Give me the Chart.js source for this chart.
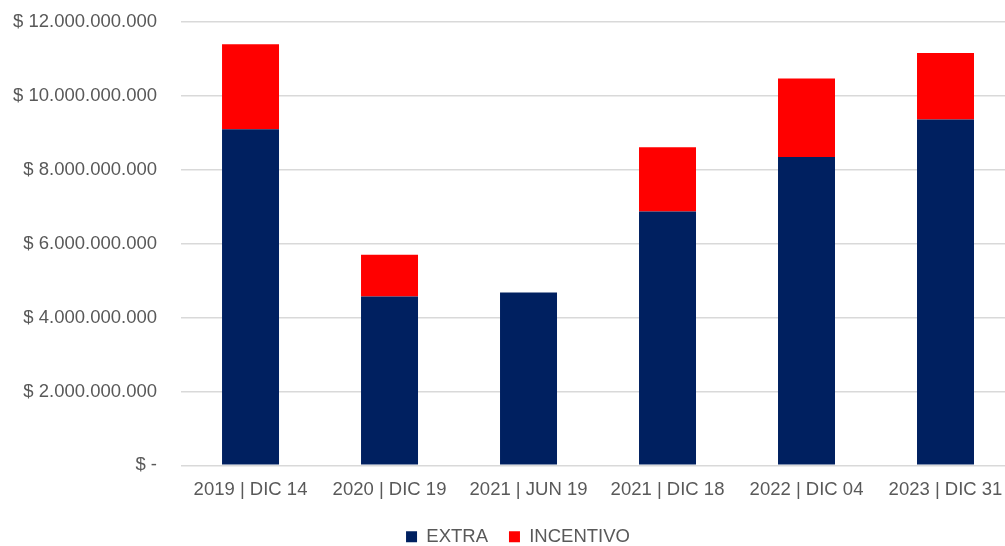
<!DOCTYPE html>
<html>
<head>
<meta charset="utf-8">
<script src="https://cdn.jsdelivr.net/npm/chart.js@4/dist/chart.umd.min.js"></script>
<style>
  html, body { margin: 0; padding: 0; background: #fff; overflow: hidden; }
  #wrap { position: relative; width: 1026px; height: 569px; margin-left: -11px; margin-top: -13px; }
</style>
</head>
<body>
<div id="wrap"><canvas id="myChart"></canvas></div>
<script>
const categories = ['2019 | DIC 14', '2020 | DIC 19', '2021 | JUN 19', '2021 | DIC 18', '2022 | DIC 04', '2023 | DIC 31']
const extra = [9100000000, 4570000000, 4680000000, 6870000000, 8350000000, 9360000000]
const incentivo = [2300000000, 1130000000, 0, 1740000000, 2120000000, 1800000000]
const yTicks = [0, 2000000000, 4000000000, 6000000000, 8000000000, 10000000000, 12000000000]

const blueColor = '#002060'
const redColor = '#FF0000'
const textColor = '#595959'

function pesos(value) {
    if (value === 0) return '$ -'
    return '$ ' + String(value).replace(/\B(?=(\d{3})+(?!\d))/g, '.')
}

// the legend in the original sits a little right of the canvas centre
const legendShift = {
    id: 'legendShift',
    afterLayout(chart) {
        if (chart.legend) chart.legend.left += 32
    }
}

const ctx = document.getElementById('myChart')

new Chart(ctx, {
    type: 'bar',
    data: {
        labels: categories,
        datasets: [
            { label: 'EXTRA', data: extra, backgroundColor: blueColor, borderWidth: 0 },
            { label: 'INCENTIVO', data: incentivo, backgroundColor: redColor, borderWidth: 0 }
        ]
    },
    options: {
        responsive: true,
        maintainAspectRatio: false,
        animation: false,
        datasets: {
            bar: { categoryPercentage: 1, barPercentage: 0.41 }
        },
        layout: { padding: 0 },
        scales: {
            x: {
                stacked: true,
                grid: { display: false },
                border: { display: false },
                ticks: { color: textColor, font: { family: 'Liberation Sans', size: 18.5 }, padding: 5.5, maxRotation: 0 }
            },
            y: {
                stacked: true,
                min: 0,
                max: 12000000000,
                afterBuildTicks: axis => { axis.ticks = yTicks.map(v => ({ value: v })) },
                grid: { color: '#d9d9d9', lineWidth: 1.5, drawTicks: false },
                border: { display: false },
                ticks: {
                    color: textColor,
                    font: { family: 'Liberation Sans', size: 18.5 },
                    padding: 24,
                    callback: value => pesos(value)
                }
            }
        },
        plugins: {
            legend: {
                position: 'bottom',
                labels: {
                    color: textColor,
                    font: { family: 'Liberation Sans', size: 18.5 },
                    boxWidth: 11,
                    boxHeight: 11,
                    padding: 21
                }
            },
            tooltip: { enabled: false }
        }
    },
    plugins: [legendShift]
})
</script>
</body>
</html>
